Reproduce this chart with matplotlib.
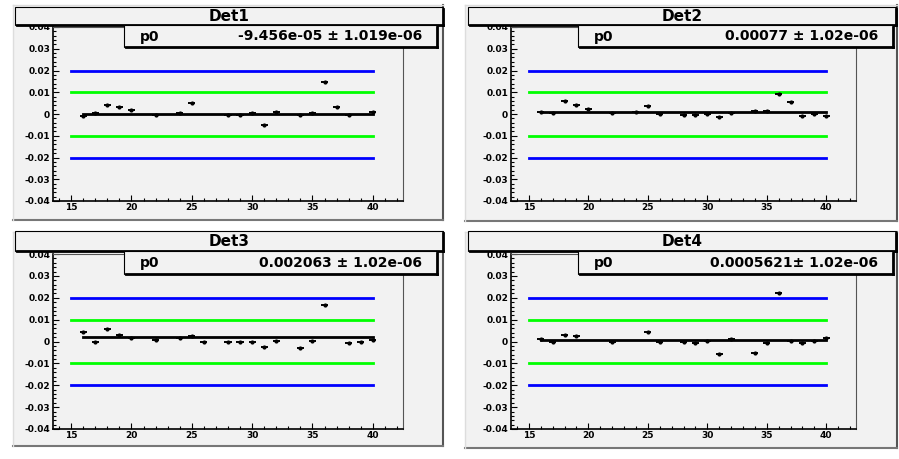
import matplotlib
matplotlib.use("Agg")
import matplotlib.pyplot as plt
from matplotlib.patches import Rectangle
from matplotlib.lines import Line2D
from matplotlib.ticker import MultipleLocator

W, H = 899, 459
plt.rcParams['font.family'] = ['DejaVu Sans']

# data
titles = ['Det1', 'Det2', 'Det3', 'Det4']
p0_vals = [-9.456e-05, 0.00077, 0.002063, 0.0005621]
p0_text = ['-9.456e-05 \u00b1 1.019e-06', '0.00077 \u00b1 1.02e-06',
           '0.002063 \u00b1 1.02e-06', '0.0005621\u00b1 1.02e-06']

det1_x = [16, 17, 18, 19, 20, 22, 24, 25, 28, 29, 30, 31, 32, 34, 35, 36, 37, 38, 40]
det1_y = [-0.001, 0.0006, 0.004, 0.003, 0.0017, -0.0006, 0.0003, 0.0049, -0.0006,
          -0.0006, 0.0003, -0.005, 0.001, -0.0003, 0.0003, 0.0145, 0.003, -0.0006, 0.0008]
det2_x = [16, 17, 18, 19, 20, 22, 24, 25, 26, 28, 29, 30, 31, 32, 34, 35, 36, 37, 38, 39, 40]
det2_y = [0.0007, 0.0003, 0.006, 0.004, 0.0022, 0.0003, 0.001, 0.0037, 0.0, -0.0003,
          -0.0003, 0.0, -0.0015, 0.0003, 0.0016, 0.0014, 0.0092, 0.0055, -0.0011, 0.0002, -0.0011]
det3_x = [16, 17, 18, 19, 20, 22, 24, 25, 26, 28, 29, 30, 31, 32, 34, 35, 36, 38, 39, 40]
det3_y = [0.0043, -0.0002, 0.0058, 0.003, 0.0015, 0.0008, 0.0015, 0.0027, -0.0002, 0.0,
          0.0, 0.0, -0.0023, 0.0003, -0.003, 0.0003, 0.0165, -0.0008, 0.0, 0.0008]
det4_x = [16, 17, 18, 19, 22, 25, 26, 28, 29, 30, 31, 32, 34, 35, 36, 37, 38, 39, 40]
det4_y = [0.001, 0.0, 0.003, 0.0023, 0.0, 0.0043, 0.0, -0.0003, -0.0005, 0.0002, -0.0056,
          0.001, -0.0052, -0.0005, 0.022, 0.0002, -0.0005, 0.0002, 0.0017]
xs = [det1_x, det2_x, det3_x, det4_x]
ys = [det1_y, det2_y, det3_y, det4_y]

yticks = [-0.04, -0.03, -0.02, -0.01, 0, 0.01, 0.02, 0.03, 0.04]
ytick_labels = ['-0.04', '-0.03', '-0.02', '-0.01', '0', '0.01', '0.02', '0.03', '0.04']
xticks = [15, 20, 25, 30, 35, 40]

# layout in pixels (x0, y0, x1, y1)
pads = [(13, 5, 443, 220), (465, 5, 897, 221), (13, 232, 443, 446), (465, 232, 897, 448)]
frames = [(53, 27, 403, 201), (511, 27, 856, 201), (53, 254, 403, 429), (511, 254, 856, 429)]
tboxes = [(15, 7, 443, 25), (468, 7, 896, 25), (15, 231, 443, 251), (468, 231, 896, 251)]
sboxes = [(124, 25, 437, 47), (578, 25, 893, 47), (124, 251, 437, 274), (578, 251, 893, 274)]

PAD = '#f2f2f2'


def fb(b):
    x0, y0, x1, y1 = b
    return [x0 / W, 1 - y1 / H, (x1 - x0) / W, (y1 - y0) / H]


def fx(x):
    return x / W


def fy(y):
    return 1 - y / H


fig = plt.figure(figsize=(W / 100, H / 100), dpi=100)
fig.patch.set_facecolor('white')


def box(b, z, shadow=2.0, lw=0.8):
    l, bt, w, h = fb(b)
    fig.add_artist(Rectangle((l, bt), w, h, transform=fig.transFigure,
                             facecolor=PAD, edgecolor='black', lw=lw, zorder=z))
    # drop shadow on right and bottom
    fig.add_artist(Line2D([fx(b[2]), fx(b[2])], [fy(b[3]), fy(b[1]) - 2 / H],
                          transform=fig.transFigure, color='black', lw=shadow, zorder=z))
    fig.add_artist(Line2D([fx(b[0]) + 2 / W, fx(b[2])], [fy(b[3]), fy(b[3])],
                          transform=fig.transFigure, color='black', lw=shadow, zorder=z))


for i in range(4):
    # pad with 3d border
    l, bt, w, h = fb(pads[i])
    fig.add_artist(Rectangle((l, bt), w, h, transform=fig.transFigure,
                             facecolor=PAD, edgecolor='none', zorder=-5))
    p = pads[i]
    fig.add_artist(Line2D([fx(p[2]), fx(p[2])], [fy(p[3]), fy(p[1])],
                          transform=fig.transFigure, color='#555555', lw=1.5, zorder=-4))
    fig.add_artist(Line2D([fx(p[0]), fx(p[2])], [fy(p[3]), fy(p[3])],
                          transform=fig.transFigure, color='#777777', lw=1.5, zorder=-4))
    fig.add_artist(Line2D([fx(p[0]), fx(p[0])], [fy(p[3]), fy(p[1])],
                          transform=fig.transFigure, color='#dddddd', lw=1.0, zorder=-4))
    fig.add_artist(Line2D([fx(p[0]), fx(p[2])], [fy(p[1]), fy(p[1])],
                          transform=fig.transFigure, color='#dddddd', lw=1.0, zorder=-4))

    ax = fig.add_axes(fb(frames[i]))
    ax.set_facecolor(PAD)
    ax.set_xlim(13.5, 42.5)
    ax.set_ylim(-0.04, 0.04)

    ax.plot([15, 40], [0.02, 0.02], color='#0000ff', lw=2)
    ax.plot([15, 40], [-0.02, -0.02], color='#0000ff', lw=2)
    ax.plot([15, 40], [0.01, 0.01], color='#00ff00', lw=2)
    ax.plot([15, 40], [-0.01, -0.01], color='#00ff00', lw=2)
    ax.plot([16, 40], [p0_vals[i], p0_vals[i]], color='black', lw=2)
    ax.errorbar(xs[i], ys[i], xerr=0.3, fmt='o', ms=2, color='black',
                elinewidth=1.4, capsize=0)

    ax.set_yticks(yticks)
    ax.set_yticklabels(ytick_labels)
    ax.set_xticks(xticks)
    ax.xaxis.set_minor_locator(MultipleLocator(1))
    ax.yaxis.set_minor_locator(MultipleLocator(0.002))
    ax.tick_params(which='both', direction='in', labelsize=6.5, pad=2,
                   top=False, right=False, width=0.8, color='black')
    ax.tick_params(which='major', length=4)
    ax.tick_params(which='minor', length=2)
    ax.tick_params(axis='x', pad=1.5)
    for lab in ax.get_xticklabels() + ax.get_yticklabels():
        lab.set_fontweight('bold')
    ax.spines['left'].set_linewidth(1.2)
    ax.spines['bottom'].set_linewidth(1.2)
    ax.spines['right'].set_color('#555555')
    ax.spines['top'].set_color('#555555')

    box(tboxes[i], 5)
    tb = tboxes[i]
    fig.text(fx((tb[0] + tb[2]) / 2), fy((tb[1] + tb[3]) / 2 + 0.5), titles[i],
             ha='center', va='center', fontsize=11, fontweight='bold', zorder=6)

    box(sboxes[i], 7)
    sb = sboxes[i]
    fig.text(fx(sb[0] + 16), fy((sb[1] + sb[3]) / 2 + 0.5), 'p0',
             ha='left', va='center', fontsize=10, fontweight='bold', zorder=8)
    fig.text(fx(sb[2] - 15), fy((sb[1] + sb[3]) / 2 + 0.5), p0_text[i],
             ha='right', va='center', fontsize=10, fontweight='bold', zorder=8)

fig.savefig('out.png', dpi=100, facecolor='white')
